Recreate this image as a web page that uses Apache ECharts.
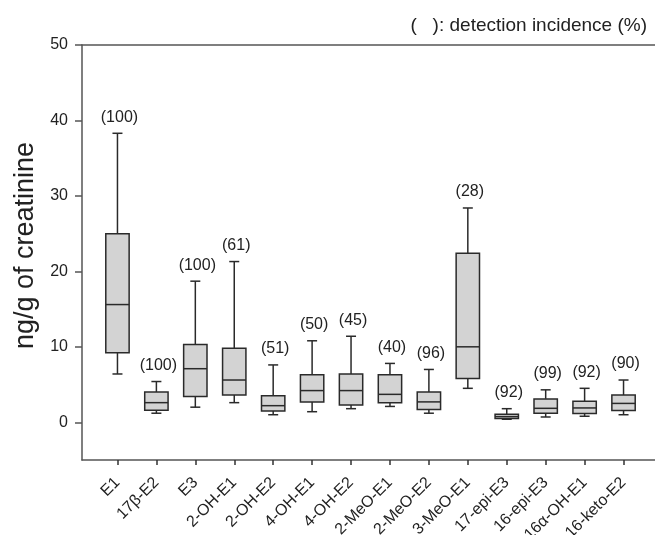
<!DOCTYPE html>
<html>
<head>
<meta charset="utf-8">
<script src="https://cdn.jsdelivr.net/npm/echarts@6/dist/echarts.min.js"></script>
<style>
html,body{margin:0;padding:0;background:#fff;}
#c{width:655px;height:535px;}
</style>
</head>
<body>
<div id="c"></div>
<script>
const categories = ['E1','17β-E2','E3','2-OH-E1','2-OH-E2','4-OH-E1','4-OH-E2','2-MeO-E1','2-MeO-E2','3-MeO-E1','17-epi-E3','16-epi-E3','16α-OH-E1','16-keto-E2'];
const whiskerLow  = [6.4, 1.2, 2.0, 2.6, 1.0, 1.4, 1.8, 2.1, 1.2, 4.5, 0.4, 0.7, 0.8, 1.0];
const quartile1   = [9.2, 1.6, 3.4, 3.6, 1.5, 2.7, 2.3, 2.6, 1.7, 5.8, 0.5, 1.2, 1.15, 1.55];
const medians     = [15.6, 2.6, 7.1, 5.6, 2.2, 4.2, 4.2, 3.7, 2.7, 10.0, 0.75, 1.85, 1.9, 2.5];
const quartile3   = [25.0, 4.0, 10.3, 9.8, 3.5, 6.3, 6.4, 6.3, 4.0, 22.4, 1.06, 3.1, 2.8, 3.6];
const whiskerHigh = [38.3, 5.4, 18.7, 21.3, 7.6, 10.8, 11.4, 7.8, 7.0, 28.4, 1.8, 4.3, 4.5, 5.6];
const incidence   = [100, 100, 100, 61, 51, 50, 45, 40, 96, 28, 92, 99, 92, 90];
const yTicks = [0, 10, 20, 30, 40, 50];

const FONT = '"Liberation Sans", Arial, Helvetica, sans-serif';
const data = categories.map((c, i) => [i, whiskerLow[i], quartile1[i], medians[i], quartile3[i], whiskerHigh[i], '(' + incidence[i] + ')']);

const chart = echarts.init(document.getElementById('c'), null, {renderer: 'canvas'});
const axisLine = {show: true, onZero: false, lineStyle: {color: '#555', width: 1.5}};
chart.setOption({
  animation: false,
  backgroundColor: '#fff',
  title: {
    text: '(   ): detection incidence (%)',
    right: 3, top: 11,
    textStyle: {fontFamily: FONT, fontSize: 19, fontWeight: 'normal', color: '#222'}
  },
  grid: [
    {left: 82, right: 0, top: 45, bottom: 75, outerBoundsMode: 'none', containLabel: false},
    {left: 98, right: 12, top: 45, bottom: 75, outerBoundsMode: 'none', containLabel: false}
  ],
  xAxis: [
    {gridIndex: 0, type: 'value', min: 0, max: 1, position: 'bottom', axisLine: axisLine,
     axisTick: {show: false}, axisLabel: {show: false}, splitLine: {show: false}},
    {gridIndex: 0, type: 'value', min: 0, max: 1, position: 'top', axisLine: axisLine,
     axisTick: {show: false}, axisLabel: {show: false}, splitLine: {show: false}},
    {gridIndex: 1, type: 'category', data: categories, boundaryGap: true, position: 'bottom',
     axisLine: {show: false, onZero: false},
     axisTick: {show: true, alignWithLabel: true, length: 5, lineStyle: {color: '#333', width: 1.5}},
     axisLabel: {rotate: 45, margin: 20, interval: 0, fontFamily: FONT, fontSize: 16, color: '#222'},
     splitLine: {show: false}}
  ],
  yAxis: [
    {gridIndex: 0, type: 'value', min: -5, max: 50, axisLine: axisLine,
     axisTick: {show: true, length: 7, customValues: yTicks, lineStyle: {color: '#555', width: 1.5}},
     axisLabel: {customValues: yTicks, margin: 14, fontFamily: FONT, fontSize: 16, color: '#222'},
     splitLine: {show: false},
     name: 'ng/g of creatinine', nameLocation: 'middle', nameGap: 43,
     nameTextStyle: {fontFamily: FONT, fontSize: 27, color: '#222', padding: [0, 0, 0, 14]}},
    {gridIndex: 1, type: 'value', min: -5, max: 50, show: false, splitLine: {show: false}}
  ],
  series: [{
    type: 'custom',
    xAxisIndex: 2, yAxisIndex: 1,
    encode: {x: 0, y: [1, 2, 3, 4, 5]},
    data: data,
    renderItem: function (params, api) {
      const x = api.value(0);
      const lo = api.coord([x, api.value(1)]);
      const q1 = api.coord([x, api.value(2)]);
      const md = api.coord([x, api.value(3)]);
      const q3 = api.coord([x, api.value(4)]);
      const hi = api.coord([x, api.value(5)]);
      const band = api.size([1, 0])[0];
      const bw = band * 0.6;
      const cap = 5;
      const cx = hi[0];
      const stroke = '#2a2a2a';
      const lw = 1.5;
      return {
        type: 'group',
        children: [
          {type: 'line', shape: {x1: cx, y1: hi[1], x2: cx, y2: q3[1]}, style: {stroke: stroke, lineWidth: lw}},
          {type: 'line', shape: {x1: cx, y1: q1[1], x2: cx, y2: lo[1]}, style: {stroke: stroke, lineWidth: lw}},
          {type: 'line', shape: {x1: cx - cap, y1: hi[1], x2: cx + cap, y2: hi[1]}, style: {stroke: stroke, lineWidth: lw}},
          {type: 'line', shape: {x1: cx - cap, y1: lo[1], x2: cx + cap, y2: lo[1]}, style: {stroke: stroke, lineWidth: lw}},
          {type: 'rect', shape: {x: cx - bw / 2, y: q3[1], width: bw, height: q1[1] - q3[1]},
           style: {fill: '#d3d3d3', stroke: stroke, lineWidth: lw}},
          {type: 'line', shape: {x1: cx - bw / 2, y1: md[1], x2: cx + bw / 2, y2: md[1]}, style: {stroke: stroke, lineWidth: lw}},
          {type: 'text', style: {text: api.value(6), x: cx + 2, y: hi[1] - 16, align: 'center', verticalAlign: 'middle',
            fontFamily: FONT, fontSize: 16, fill: '#222'}}
        ]
      };
    }
  }]
});
</script>
</body>
</html>
